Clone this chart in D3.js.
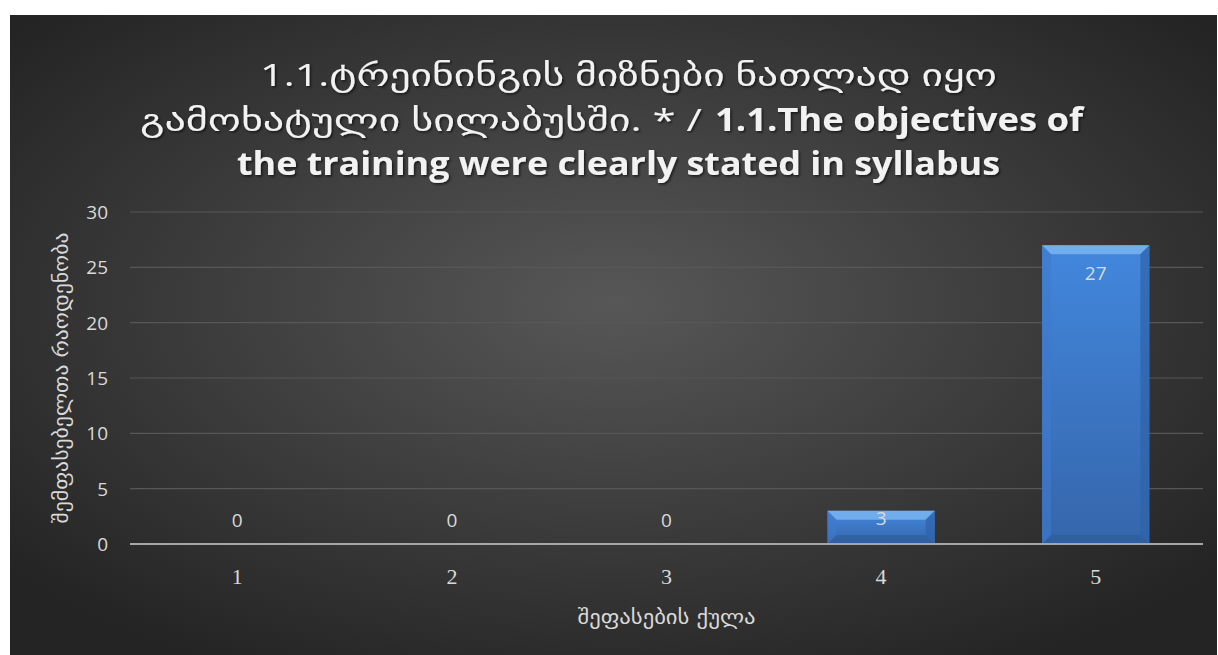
<!DOCTYPE html>
<html><head><meta charset="utf-8">
<script src="https://cdn.jsdelivr.net/npm/d3@7"></script>
<style>html,body{margin:0;padding:0;background:#fff;overflow:hidden}</style>
</head><body>
<svg id="c" width="1218" height="655"></svg>
<script>
const categories = ["1","2","3","4","5"];
const values = [0,0,0,3,27];
const yTicks = [0,5,10,15,20,25,30];
// title segments: text, bold, left x, width, baseline
const titleSegs = [
  {t:"1.1.ტრეინინგის მიზნები ნათლად იყო", b:false, x:260, w:737, y:86},
  {t:"გამოხატული სილაბუსში. * /", b:false, x:140, w:562, y:131},
  {t:"1.1.The objectives of", b:true, x:715, w:368, y:131},
  {t:"the training were clearly stated in syllabus", b:true, x:237, w:763, y:175}
];
const xTitle = "შეფასების ქულა";
const yTitle = "შემფასებელთა რაოდენობა";

const svg = d3.select("#c");
const defs = svg.append("defs");
const rg = defs.append("radialGradient").attr("id","bg").attr("cx","50%").attr("cy","45%").attr("r","65%");
rg.append("stop").attr("offset","0%").attr("stop-color","#575757");
rg.append("stop").attr("offset","100%").attr("stop-color","#242424");
const bg = defs.append("linearGradient").attr("id","bar").attr("x1",0).attr("x2",0).attr("y1",0).attr("y2",1);
bg.append("stop").attr("offset","0%").attr("stop-color","#4287dd");
bg.append("stop").attr("offset","100%").attr("stop-color","#3566ab");
const f = defs.append("filter").attr("id","sh").attr("x","-5%").attr("y","-30%").attr("width","110%").attr("height","160%");
f.append("feDropShadow").attr("dx",1.5).attr("dy",1.5).attr("stdDeviation",1.2).attr("flood-color","#000").attr("flood-opacity",0.6);

svg.append("rect").attr("x",10).attr("y",15).attr("width",1207).attr("height",640).attr("fill","url(#bg)");

const m = {l:130, r:1203, t:212, b:544};
const x = d3.scaleBand().domain(categories).range([m.l,m.r]).paddingInner(0.5).paddingOuter(0.25);
const y = d3.scaleLinear().domain([0,30]).range([m.b,m.t]);

// gridlines
svg.append("g").selectAll("line").data(yTicks.filter(d=>d>0)).join("line")
  .attr("x1",m.l).attr("x2",m.r).attr("y1",d=>y(d)).attr("y2",d=>y(d))
  .attr("stroke","#575757").attr("stroke-width",1.2);

// y axis labels
const yAxis = d3.axisLeft(y).tickValues(yTicks).tickSize(0).tickPadding(0);
const yg = svg.append("g").attr("transform",`translate(${m.l-22},0)`).call(yAxis);
yg.select(".domain").remove();
yg.selectAll("text").attr("fill","#d9d9d9").style("font-family","'Open Sans','Lato',sans-serif").style("font-size","19px").attr("dy","0.35em");

// bars
const bw = x.bandwidth();
const bars = svg.append("g").selectAll("g").data(categories.map((c,i)=>({c,v:values[i]})).filter(d=>d.v>0)).join("g");
bars.each(function(d){
  const g = d3.select(this);
  const x0 = x(d.c), x1 = x0+bw, y0 = y(d.v), y1 = y(0);
  const bv = Math.min(9, (y1-y0)/3);
  g.append("rect").attr("x",x0).attr("y",y0).attr("width",bw).attr("height",y1-y0).attr("fill","url(#bar)");
  g.append("polygon").attr("points",`${x0},${y0} ${x1},${y0} ${x1-bv},${y0+bv} ${x0+bv},${y0+bv}`).attr("fill","#7ab4f0").attr("opacity",0.85);
  g.append("polygon").attr("points",`${x0},${y0} ${x0+bv},${y0+bv} ${x0+bv},${y1-bv} ${x0},${y1}`).attr("fill","#3f7acb").attr("opacity",0.6);
  g.append("polygon").attr("points",`${x1},${y0} ${x1-bv},${y0+bv} ${x1-bv},${y1-bv} ${x1},${y1}`).attr("fill","#2f62a8").attr("opacity",0.7);
  g.append("polygon").attr("points",`${x0},${y1} ${x0+bv},${y1-bv} ${x1-bv},${y1-bv} ${x1},${y1}`).attr("fill","#2b5795").attr("opacity",0.5);
});

// axis line
svg.append("line").attr("x1",m.l).attr("x2",m.r).attr("y1",y(0)).attr("y2",y(0)).attr("stroke","#a6a6a6").attr("stroke-width",2.2);

// x labels
const xAxis = d3.axisBottom(x).tickSize(0).tickPadding(0);
const xg = svg.append("g").attr("transform",`translate(0,${m.b+32})`).call(xAxis);
xg.select(".domain").remove();
xg.selectAll("text").attr("fill","#d9d9d9").style("font-family","'Liberation Serif','DejaVu Serif',serif").style("font-size","22px").attr("dy","0.35em");

// data labels
svg.append("g").selectAll("text").data(categories.map((c,i)=>({c,v:values[i]}))).join("text")
  .attr("x",d=>x(d.c)+bw/2)
  .attr("y",d=>d.v===0 ? y(0)-24 : (y(0)-y(d.v) > 60 ? y(d.v)+28 : y(d.v)+8))
  .attr("text-anchor","middle").attr("dy","0.35em")
  .attr("fill","#d9d9d9").style("font-family","'Open Sans','Lato',sans-serif").style("font-size","19px")
  .text(d=>d.v);

// title
svg.append("g").attr("filter","url(#sh)").selectAll("text").data(titleSegs).join("text")
  .attr("x",d=>d.x).attr("y",d=>d.y)
  .attr("textLength",d=>d.w).attr("lengthAdjust","spacingAndGlyphs")
  .attr("fill","#f2f2f2")
  .style("font-family","'Open Sans','DejaVu Sans',sans-serif")
  .style("font-size",d=>d.b?"33px":"31px")
  .style("font-weight",d=>d.b?"bold":"normal")
  .text(d=>d.t);

// axis titles
svg.append("text").attr("x",(m.l+m.r)/2 - 89).attr("y",617).attr("dy","0.35em")
  .attr("textLength",178).attr("lengthAdjust","spacingAndGlyphs")
  .attr("fill","#d9d9d9").style("font-family","'DejaVu Sans',sans-serif").style("font-size","19px").text(xTitle);
svg.append("text").attr("transform",`translate(61,${(m.t+m.b)/2 + 145.5}) rotate(-90)`).attr("dy","0.35em")
  .attr("textLength",291).attr("lengthAdjust","spacingAndGlyphs")
  .attr("fill","#d9d9d9").style("font-family","'DejaVu Sans',sans-serif").style("font-size","19px").text(yTitle);
</script>
</body></html>
